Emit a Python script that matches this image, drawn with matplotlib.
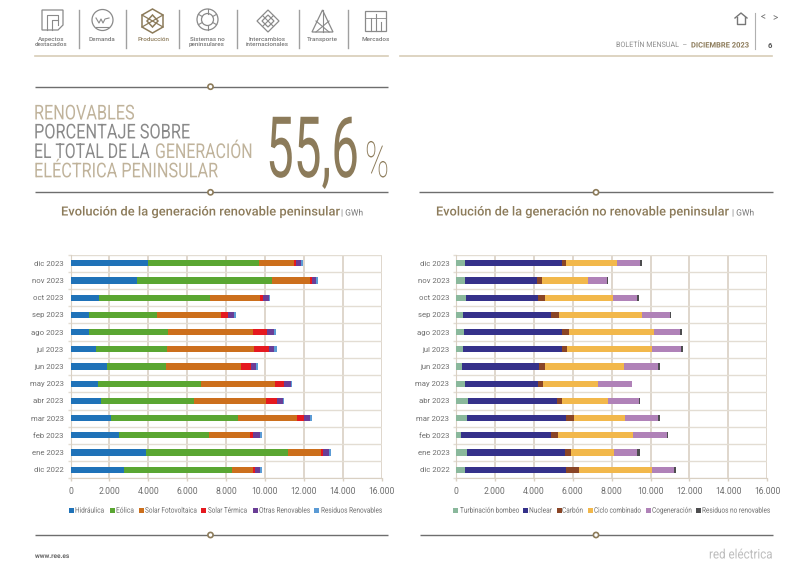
import matplotlib
matplotlib.use('Agg')
import matplotlib.pyplot as plt
import matplotlib.patheffects as pe
from matplotlib.patches import Circle, Polygon, Rectangle
from matplotlib.transforms import Affine2D

W, H = 793, 568
FONT = 'Roboto'

months = ['dic 2023', 'nov 2023', 'oct 2023', 'sep 2023', 'ago 2023', 'jul 2023', 'jun 2023',
          'may 2023', 'abr 2023', 'mar 2023', 'feb 2023', 'ene 2023', 'dic 2022']
ticks = [0, 2000, 4000, 6000, 8000, 10000, 12000, 14000, 16000]
tick_labels = ['0', '2.000', '4.000', '6.000', '8.000', '10.000', '12.000', '14.000', '16.000']

hidraulica = [3990, 3430, 1460, 960, 960, 1320, 1900, 1405, 1560, 2060, 2490, 3875, 2760]
eolica = [5710, 6910, 5690, 3500, 4065, 3650, 3020, 5315, 4785, 6530, 4610, 7325, 5540]
fotovoltaica = [1800, 1970, 2570, 3270, 4375, 4445, 3825, 3790, 3705, 3035, 2110, 1680, 1100]
termica = [100, 90, 190, 380, 720, 785, 515, 480, 580, 395, 170, 120, 70]
otras = [260, 220, 290, 280, 360, 280, 275, 345, 310, 310, 375, 310, 290]
residuos_ren = [90, 90, 55, 100, 85, 120, 105, 50, 50, 85, 70, 85, 85]

bombeo = [460, 460, 495, 360, 430, 340, 310, 480, 615, 550, 255, 550, 480]
nuclear = [4970, 3720, 3735, 4540, 5000, 5090, 3970, 3750, 4555, 5100, 4605, 5065, 5170]
carbon = [220, 240, 340, 390, 375, 270, 290, 240, 275, 410, 380, 290, 685]
ciclo = [2605, 2345, 3480, 4265, 4385, 4400, 4080, 2825, 2395, 2620, 3850, 2230, 3750]
cogeneracion = [1195, 1010, 1265, 1435, 1315, 1490, 1725, 1730, 1560, 1730, 1750, 1180, 1130]
residuos_no = [105, 65, 85, 70, 105, 105, 120, 15, 50, 85, 85, 120, 120]

renovable = [('Hidráulica', hidraulica, '#1f72b8'), ('Eólica', eolica, '#5aa632'),
             ('Solar Fotovoltaica', fotovoltaica, '#cc6f1c'), ('Solar Térmica', termica, '#e5191f'),
             ('Otras Renovables', otras, '#6a3d96'), ('Residuos Renovables', residuos_ren, '#5b9bd5')]
no_renovable = [('Turbinación bombeo', bombeo, '#8ab89c'), ('Nuclear', nuclear, '#35318a'),
                ('Carbón', carbon, '#8a4526'), ('Ciclo combinado', ciclo, '#f2b84b'),
                ('Cogeneración', cogeneracion, '#b082b8'), ('Residuos no renovables', residuos_no, '#4d4d4f')]

# legend layout in pixels: swatch x, label start, label end
legend_ren = [(69, 75, 104), (110, 116, 134), (139, 145, 197), (201, 208, 247), (253, 259, 310), (314, 321, 382)]
legend_no = [(453, 460, 519), (523, 529, 552), (557, 562, 583), (588, 594, 641), (646, 652, 692), (696, 702, 770)]

GOLD = '#8c7b5a'
TAN = '#c0b39b'
GREY = '#777777'
HEAD_GREY = '#8a8a8a'
BEIGE = '#d9d0c3'
ICON = '#8a8a8a'


class Squeeze(pe.AbstractPathEffect):
    # no condensed font installed, so narrow the glyphs around the left edge
    def __init__(self, fx, x0):
        super().__init__()
        self.fx, self.x0 = fx, x0

    def draw_path(self, renderer, gc, tpath, affine, rgbFace=None):
        sq = Affine2D().translate(-self.x0, 0).scale(self.fx, 1).translate(self.x0, 0)
        renderer.draw_path(gc, tpath, affine + sq, rgbFace)


fig = plt.figure(figsize=(W / 100, H / 100), dpi=100)
rend = fig.canvas.get_renderer()
bg = fig.add_axes([0, 0, 1, 1])
bg.set_xlim(0, W)
bg.set_ylim(H, 0)
bg.axis('off')


def txt(x, y, s, size, color, width=None, weight='normal', ha='left', va='center'):
    t = bg.text(x, y, s, fontsize=size, color=color, ha=ha, va=va, family=FONT, fontweight=weight)
    if width:
        box = t.get_window_extent(rend)
        t.set_path_effects([Squeeze(width / box.width, box.x0)])
    return t


def divider(x0, x1, y, xc):
    bg.plot([x0, x1], [y, y], color='#6e6e6e', lw=1, solid_capstyle='butt')
    bg.add_patch(Circle((xc, y), 2.6, fc='white', ec=GOLD, lw=1.2, zorder=3))


def line(xs, ys, color=ICON, lw=0.8):
    bg.plot(xs, ys, color=color, lw=lw)


def draw_chart(x0, series, legend_pos):
    ax = fig.add_axes([x0 / W, 1 - 478.4 / H, 311.2 / W, 223.8 / H])
    pos = list(range(len(months)))
    left = [0] * len(months)
    for name, vals, col in series:
        ax.barh(pos, vals, left=left, height=0.36, color=col, zorder=3)
        left = [a + b for a, b in zip(left, vals)]
    ax.set_xlim(0, 16000)
    ax.set_ylim(len(months) - 0.5, -0.5)
    ax.set_xticks(ticks)
    ax.set_xticklabels(tick_labels, family=FONT, fontsize=6.2, color='#6f6f6f')
    ax.set_yticks(pos)
    ax.set_yticklabels(months, family=FONT, fontsize=5.6, color='#6f6f6f')
    ax.set_yticks([p - 0.5 for p in pos] + [len(months) - 0.5], minor=True)
    ax.tick_params(axis='y', which='major', length=0, pad=4.7)
    ax.tick_params(axis='y', which='minor', length=2.5, color='#e3ddd3', width=1)
    ax.tick_params(axis='x', length=2, color=BEIGE, width=1, pad=4.5)
    ax.grid(True, axis='x', color=BEIGE, lw=1.2, zorder=0)
    ax.grid(True, axis='y', which='minor', color='#e3ddd3', lw=1, zorder=0)
    ax.set_axisbelow(True)
    for s in ['top', 'right']:
        ax.spines[s].set_visible(False)
    ax.spines['left'].set_color(BEIGE)
    ax.spines['bottom'].set_color(BEIGE)
    # legend by hand, the labels are narrower than the font
    for (name, vals, col), (xs, x1, x2) in zip(series, legend_pos):
        bg.add_patch(Rectangle((xs, 508), 5, 5, fc=col, ec='none'))
        txt(x1, 510.7, name, 5.6, '#6f6f6f', width=x2 - x1)
    return ax


draw_chart(70.5, renovable, legend_ren)
draw_chart(456, no_renovable, legend_no)

# rules and dividers
line([35, 388], [56, 56], '#d8cdb8', 1.2)
line([400, 772], [56, 56], '#d8cdb8', 1.2)
divider(35, 388, 86.7, 210.5)
divider(35, 388, 192.3, 210.5)
divider(419, 773, 192.3, 596)
divider(35, 388, 535, 210.5)
divider(420, 773, 535, 596)

# headline
txt(34, 119.4, 'RENOVABLES', 14.7, TAN, width=100, va='baseline')
txt(34, 138.4, 'PORCENTAJE SOBRE', 14.7, HEAD_GREY, width=155, va='baseline')
txt(34, 158, 'EL TOTAL DE LA', 14.7, HEAD_GREY, width=115, va='baseline')
txt(155, 158, 'GENERACIÓN', 14.7, TAN, width=97, va='baseline')
txt(34, 177.3, 'ELÉCTRICA PENINSULAR', 14.7, TAN, width=183, va='baseline')
txt(266, 177, '55,6', 61, GOLD, width=93, va='baseline')
txt(365, 177, '%', 36, GOLD, width=24, weight='light', va='baseline')

txt(61, 212, 'Evolución de la generación renovable peninsular', 9.1, GOLD, width=278, weight='medium')
txt(341, 213, '| GWh', 6.3, GREY, width=22)
txt(436, 212, 'Evolución de la generación no renovable peninsular', 9.1, GOLD, width=292, weight='medium')
txt(732, 213, '| GWh', 6.3, GREY, width=22)

# nav bar
nav = [(51, 'Aspectos\ndestacados', GREY), (102, 'Demanda', GREY), (153, 'Producción', GOLD),
       (207, 'Sistemas no\npeninsulares', GREY), (267, 'Intercambios\ninternacionales', GREY),
       (322, 'Transporte', GREY), (375.5, 'Mercados', GREY)]
for x, s, c in nav:
    bg.text(x, 37, s, fontsize=4.5, color=c, ha='center', va='top', family=FONT,
            fontweight='medium', linespacing=1.1)
for x in [78.7, 126, 179, 237, 299, 348]:
    line([x, x], [10, 48], '#a0a0a0', 1)

ic = dict(fill=False, ec=ICON, lw=0.9)
# Aspectos destacados
bg.add_patch(Polygon([(42, 10), (63, 10), (63, 25), (58, 30), (42, 30)], **ic))
line([47, 47, 58, 58], [30, 15, 15, 25])
line([52, 52, 58], [30, 20, 20])
# Demanda
bg.add_patch(Circle((102.5, 20), 10.5, **ic))
line([96, 99, 101, 103, 105, 109], [18, 23, 19, 23, 19, 18])
line([96, 109], [27, 27])
# Produccion
gold_ic = dict(fill=False, ec=GOLD, lw=1.1)
bg.add_patch(Polygon([(152.5, 9), (163, 15), (163, 27), (152.5, 33), (142, 27), (142, 15)], **gold_ic))
bg.add_patch(Polygon([(152.5, 15), (158, 21), (152.5, 27), (147, 21)], **gold_ic))
line([142, 163], [15, 27], GOLD, 0.9)
line([142, 163], [27, 15], GOLD, 0.9)
# Sistemas no peninsulares
bg.add_patch(Circle((207.5, 19.5), 10.5, **ic))
bg.add_patch(Circle((207.5, 19.5), 6, **ic))
for dx, dy in [(0, -8), (7, 4), (-7, 4), (0, 8), (7, -4), (-7, -4)]:
    line([207.5 + dx * 0.75, 207.5 + dx * 1.3], [19.5 + dy * 0.75, 19.5 + dy * 1.3])
# Intercambios
bg.add_patch(Polygon([(268, 10), (279, 21), (268, 32), (257, 21)], **ic))
bg.add_patch(Polygon([(268, 15), (274, 21), (268, 27), (262, 21)], **ic))
line([262.5, 273.5], [15.5, 26.5])
line([273.5, 262.5], [15.5, 26.5])
# Transporte
bg.add_patch(Polygon([(322.5, 10), (333, 32), (312, 32)], **ic))
line([322.5, 322.5], [10, 32])
line([316, 329], [21, 32])
line([329, 316], [21, 32])
# Mercados
bg.add_patch(Rectangle((365, 10.5), 21, 20.5, **ic))
for x, y in [(371, 18), (376, 14), (381, 22)]:
    line([x, x], [y, 31])
line([365, 386], [18, 18], ICON, 0.6)

# home and arrows
line([735, 741, 747], [18, 13, 18], '#777777', 1)
line([737, 737, 745, 745], [17, 24, 24, 17], '#777777', 1)
line([755, 755], [13, 49], '#b0b0b0', 0.8)
txt(761, 17.5, '<', 7, GREY)
txt(772, 17.5, '>', 7, GREY)

txt(616, 45.5, 'BOLETÍN MENSUAL  –', 5.4, '#8e8e8e', width=71)
txt(691, 45.5, 'DICIEMBRE 2023', 5.4, GOLD, width=58, weight='bold')
txt(770, 46, '6', 5.6, '#555555', ha='center', weight='bold')
txt(35, 556, 'www.ree.es', 4.8, '#666666', width=34, weight='bold')
txt(709, 555, 'red eléctrica', 9.5, '#bdbdbd', width=64)

fig.savefig('out.png', dpi=100)
